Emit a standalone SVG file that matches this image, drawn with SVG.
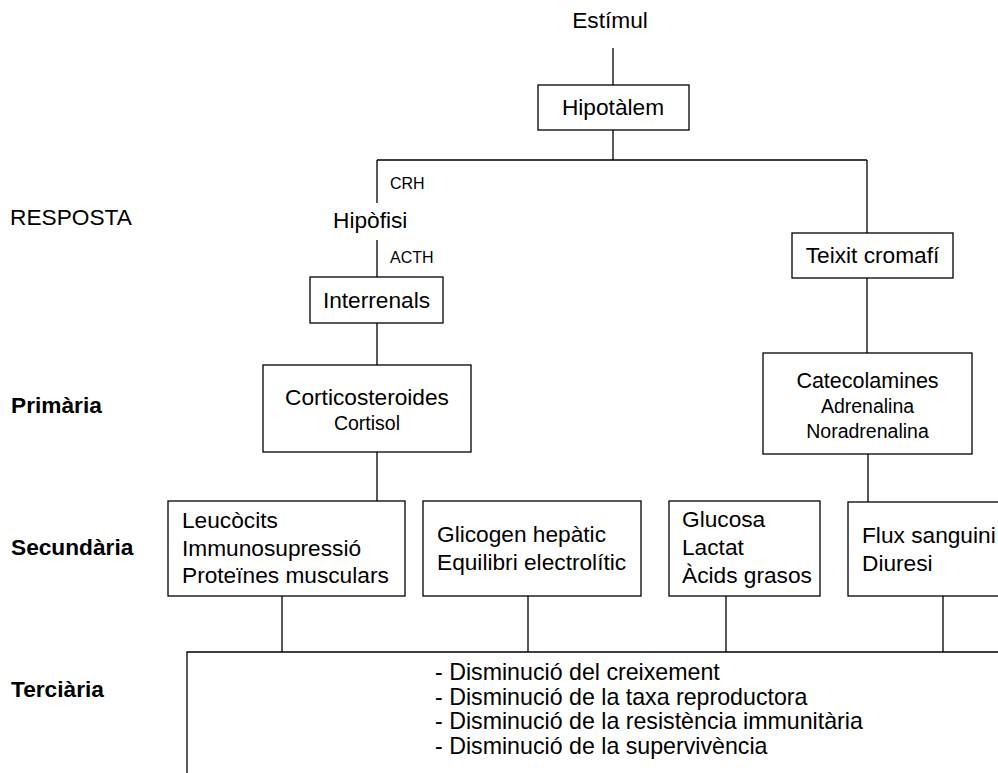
<svg xmlns="http://www.w3.org/2000/svg" width="998" height="773" viewBox="0 0 998 773">
<style>
text{font-family:"Liberation Sans",Arial,sans-serif;fill:#000}
.m{font-size:22.7px}
.l{font-size:23.2px}
.s{font-size:19.5px}
.t{font-size:16px}
.b{font-size:22.7px;font-weight:bold}
.c{text-anchor:middle}
.box{fill:#fff;stroke:#000;stroke-width:1.3}
.ln{fill:none;stroke:#000;stroke-width:1.3}
</style>
<rect width="998" height="773" fill="#fff"/>
<g id="levels">
<text class="m" x="10" y="225">RESPOSTA</text>
<text class="b" x="11" y="413">Primària</text>
<text class="b" x="11" y="555">Secundària</text>
<text class="b" x="11" y="697">Terciària</text>
</g>
<g id="connectors">
<path class="ln" d="M613,48V85M613,130V160M377,160H867M377,160V203M377,240V277M377,323V365M377,452V501M867,160V233M867,278V353M868,454V502M282,596V652M528,596V652M726,596V652M943,596V652"/>
<text class="t" x="390" y="189">CRH</text>
<text class="t" x="390" y="263">ACTH</text>
</g>
<g id="estimul"><text class="m c" x="610" y="28">Estímul</text></g>
<g id="hipotalem"><rect class="box" x="538" y="85" width="151" height="45"/><text class="m c" x="613" y="115">Hipotàlem</text></g>
<g id="hipofisi"><text class="m" x="333" y="228">Hipòfisi</text></g>
<g id="interrenals"><rect class="box" x="310" y="277" width="133" height="46"/><text class="m c" x="376.5" y="308">Interrenals</text></g>
<g id="teixit"><rect class="box" x="792" y="233" width="161" height="45"/><text class="m c" x="872.5" y="263">Teixit cromafí</text></g>
<g id="corticosteroides"><rect class="box" x="263" y="365" width="208" height="87"/><text class="m c" x="367" y="405">Corticosteroides</text><text class="s c" x="367" y="430">Cortisol</text></g>
<g id="catecolamines"><rect class="box" x="763" y="353" width="209" height="101"/><text class="c" x="867.5" y="388" style="font-size:21.5px">Catecolamines</text><text class="s c" x="867.5" y="413">Adrenalina</text><text class="s c" x="867.5" y="438">Noradrenalina</text></g>
<g id="leucocits"><rect class="box" x="168" y="501" width="237" height="95"/><text class="m" x="182" y="528">Leucòcits</text><text class="m" x="182" y="556">Immunosupressió</text><text class="m" x="182" y="583">Proteïnes musculars</text></g>
<g id="glicogen"><rect class="box" x="423" y="501" width="218" height="95"/><text class="m" x="437" y="542">Glicogen hepàtic</text><text class="m" x="437" y="570">Equilibri electrolític</text></g>
<g id="glucosa"><rect class="box" x="669" y="501" width="151" height="95"/><text class="m" x="682" y="527">Glucosa</text><text class="m" x="682" y="555">Lactat</text><text class="m" x="682" y="583">Àcids grasos</text></g>
<g id="flux"><rect class="box" x="848" y="502" width="160" height="94"/><text class="m" x="862" y="543">Flux sanguini</text><text class="m" x="862" y="571">Diuresi</text></g>
<g id="terciaria"><path class="ln" d="M187,775V652H1000"/><text class="l" x="435" y="680">- Disminució del creixement</text><text class="l" x="435" y="704.5">- Disminució de la taxa reproductora</text><text class="l" x="435" y="729">- Disminució de la resistència immunitària</text><text class="l" x="435" y="753.5">- Disminució de la supervivència</text></g>
</svg>
